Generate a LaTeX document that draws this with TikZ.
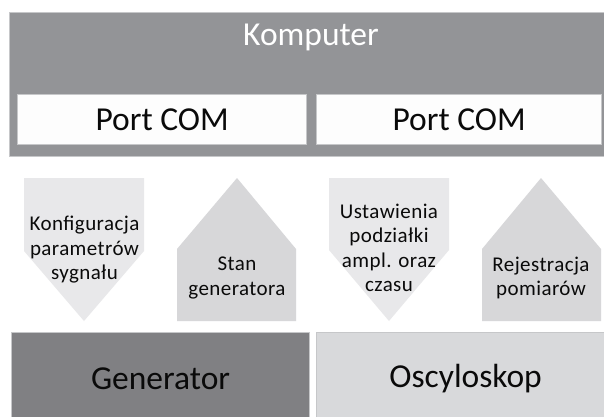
\documentclass[tikz,border=0pt]{standalone}
\usepackage{fontspec}
\setmainfont{Carlito}
\definecolor{pcgray}{HTML}{939497}
\definecolor{portfill}{HTML}{FDFDFD}
\definecolor{edgegray}{HTML}{C6C7C9}
\definecolor{downfill}{HTML}{E8E8EA}
\definecolor{upfill}{HTML}{D7D7D9}
\definecolor{genfill}{HTML}{808083}
\definecolor{oscfill}{HTML}{D8D9DB}
\definecolor{txt}{HTML}{0A0A0A}
\begin{document}
\begin{tikzpicture}[x=1pt,y=1pt,
  box/.style={draw=edgegray,line width=1.2pt,inner sep=0pt,anchor=north west},
  bigtext/.style={font=\fontsize{33.5}{40}\selectfont,text=txt},
  flowtext/.style={font=\fontsize{21}{24.5}\selectfont\addfontfeatures{LetterSpace=2}\relax,align=center,text=txt,inner sep=0pt},
  downarrow/.style={fill=downfill},
  uparrow/.style={fill=upfill}]
\useasboundingbox (0,0) rectangle (604,416);
\clip (0,0) rectangle (604,416);
\fill[white] (0,0) rectangle (604,416);

% computer with its two serial ports
\node[box,fill=pcgray,minimum width=600pt,minimum height=144pt] (pc) at (9,404) {};
\node[bigtext,text=white] (pclabel) at (311,379) {Komputer};
\node[box,fill=portfill,minimum width=289pt,minimum height=50pt] (com1) at (17,322) {};
\node[bigtext] (com1label) at (com1.center) {Port COM};
\node[box,fill=portfill,minimum width=285pt,minimum height=50pt] (com2) at (316,322) {};
\node[bigtext] (com2label) at (com2.center) {Port COM};

% data flows between the computer and the instruments
\fill[downarrow] (24,238) -- (144,238) -- (144,165) -- (84,95) -- (24,165) -- cycle;
\node[flowtext] (cfg) at (84.5,166) {Konfiguracja\\parametrów\\sygnału};
\fill[uparrow] (237,238) -- (296,167) -- (296,95) -- (177,95) -- (177,167) -- cycle;
\node[flowtext] (stan) at (237,138) {Stan\\generatora};
\fill[downarrow] (329,238) -- (449,238) -- (449,166) -- (389,95) -- (329,166) -- cycle;
\node[flowtext] (ust) at (389,168) {Ustawienia\\podziałki\\ampl. oraz\\czasu};
\fill[uparrow] (541,238) -- (601,167) -- (601,95) -- (482,95) -- (482,167) -- cycle;
\node[flowtext] (rej) at (541,138) {Rejestracja\\pomiarów};

% instruments
\node[box,fill=genfill,minimum width=298pt,minimum height=92pt] (gen) at (11,84) {};
\node[bigtext] (genlabel) at (gen.center) {Generator};
\node[box,fill=oscfill,minimum width=298pt,minimum height=92pt] (osc) at (316,84) {};
\node[bigtext] (osclabel) at (osc.center) {Oscyloskop};
\end{tikzpicture}
\end{document}
